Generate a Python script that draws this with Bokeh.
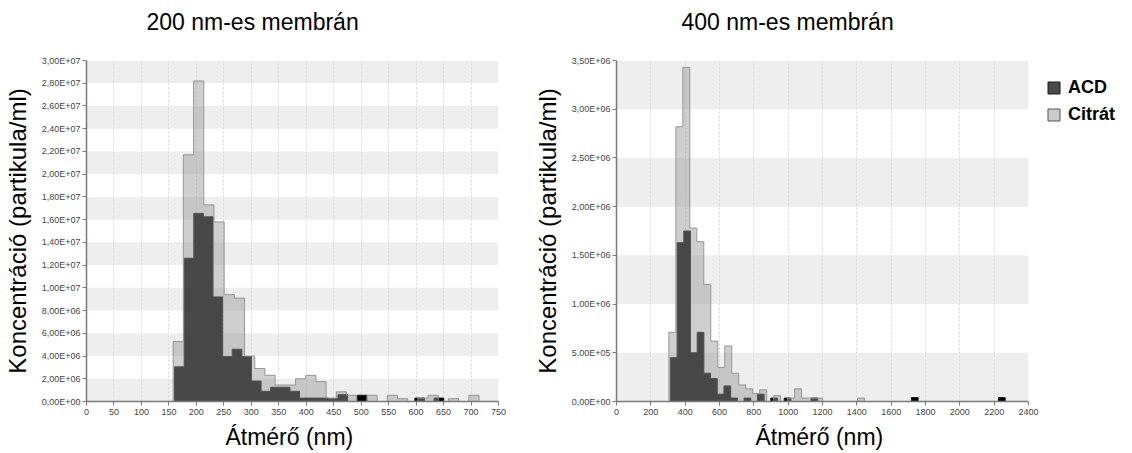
from bokeh.plotting import figure
from bokeh.layouts import row
from bokeh.models import FixedTicker, Legend, LegendItem, BoxAnnotation, Range1d, Title
from bokeh.embed import file_html
from bokeh.resources import INLINE

FONT = "Liberation Sans"
NAN = float("nan")

# ---------------- data: 200 nm membrane ----------------
title_200 = "200 nm-es membrán"
x_ticks_200 = [0, 50, 100, 150, 200, 250, 300, 350, 400, 450, 500, 550, 600, 650, 700, 750]
x_labels_200 = ["0", "50", "100", "150", "200", "250", "300", "350", "400", "450", "500",
                "550", "600", "650", "700", "750"]
y_ticks_200 = [0, 2e6, 4e6, 6e6, 8e6, 1e7, 1.2e7, 1.4e7, 1.6e7, 1.8e7, 2e7, 2.2e7, 2.4e7,
               2.6e7, 2.8e7, 3e7]
y_labels_200 = ["0,00E+00", "2,00E+06", "4,00E+06", "6,00E+06", "8,00E+06", "1,00E+07",
                "1,20E+07", "1,40E+07", "1,60E+07", "1,80E+07", "2,00E+07", "2,20E+07",
                "2,40E+07", "2,60E+07", "2,80E+07", "3,00E+07"]

# ACD histogram (bin start, bin width in nm, counts per bin)
acd200_start = 160.3
acd200_bin = 17.5
acd200 = [3.05e6, 12.6e6, 16.55e6, 16.25e6, 9.2e6, 3.95e6, 4.6e6, 3.95e6, 1.8e6, 0.9e6,
          1.25e6, 1.25e6, 0.9e6, 0.3e6, 0.3e6, 0.3e6, 0.25e6, 0.6e6, 0, 0.55e6,
          0, 0, 0, 0, 0, 0.3e6, 0, 0.3e6]

# Citrát histogram
cit200_start = 157.8
cit200_bin = 18.56
cit200 = [5.28e6, 21.7e6, 28.2e6, 17.3e6, 15.8e6, 9.4e6, 9.1e6, 4.0e6, 2.9e6, 2.3e6,
          1.45e6, 1.45e6, 2.0e6, 2.3e6, 1.75e6, 0.3e6, 0.85e6, 0.55e6, 0, 0.55e6,
          0, 0.55e6, 0.25e6, 0, 0.3e6, 0.55e6, 0, 0.25e6, 0, 0.55e6]

# ---------------- data: 400 nm membrane ----------------
title_400 = "400 nm-es membrán"
x_ticks_400 = [0, 200, 400, 600, 800, 1000, 1200, 1400, 1600, 1800, 2000, 2200, 2400]
x_labels_400 = ["0", "200", "400", "600", "800", "1000", "1200", "1400", "1600", "1800",
                "2000", "2200", "2400"]
y_ticks_400 = [0, 5e5, 1e6, 1.5e6, 2e6, 2.5e6, 3e6, 3.5e6]
y_labels_400 = ["0,00E+00", "5,00E+05", "1,00E+06", "1,50E+06", "2,00E+06", "2,50E+06",
                "3,00E+06", "3,50E+06"]

acd400_start = 314.0
acd400_bin = 39.0
acd400 = [4.5e5, 16.3e5, 17.5e5, 5.0e5, 7.1e5, 2.9e5, 2.35e5, 0.75e5, 1.6e5, 0.35e5,
          0, 0.35e5, 0, 0.75e5, 0, 0.35e5, 0, 0.35e5, 0, 0,
          0, 0.35e5, 0, 0, 0, 0, 0, 0, 0, 0,
          0, 0, 0, 0, 0, 0, 0.4e5, 0, 0, 0,
          0, 0, 0, 0, 0, 0, 0, 0, 0, 0.4e5]

cit400_start = 305.0
cit400_bin = 40.7
cit400 = [7.1e5, 28.2e5, 34.3e5, 17.8e5, 16.4e5, 12.0e5, 6.2e5, 3.5e5, 5.7e5, 2.9e5,
          1.7e5, 1.3e5, 0.8e5, 1.2e5, 0, 0.6e5, 0, 0.35e5, 1.3e5, 0.35e5,
          0.35e5, 0.35e5, 0, 0, 0, 0, 0, 0.35e5]

series_labels = ["ACD", "Citrát"]
x_title = "Átmérő  (nm)"
y_title = "Koncentráció (partikula/ml)"

ACD_FILL = "black"
CIT_FILL = "#999999"
CIT_ALPHA = 0.47


def step_runs(start, width, vals):
    """Outline polygons of contiguous non-zero histogram runs."""
    xs_all, ys_all = [], []
    cx, cy = None, None
    for i, v in enumerate(vals):
        left = start + i * width
        right = left + width
        if v > 0:
            if cx is None:
                cx, cy = [left], [0]
            cx += [left, right]
            cy += [v, v]
        elif cx is not None:
            cx.append(cx[-1]); cy.append(0)
            xs_all.append(cx); ys_all.append(cy)
            cx = None
    if cx is not None:
        cx.append(cx[-1]); cy.append(0)
        xs_all.append(cx); ys_all.append(cy)
    return xs_all, ys_all


def make_plot(title, xr, yr, xt, xl, yt, yl, acd, cit, min_left, min_right, offset):
    p = figure(frame_width=412, frame_height=341, title=None,
               x_range=Range1d(*xr), y_range=Range1d(*yr),
               output_backend="svg", toolbar_location=None,
               min_border_left=min_left, min_border_right=min_right,
               min_border_top=60, min_border_bottom=40)
    p.outline_line_color = None
    p.background_fill_color = "white"
    p.border_fill_color = "white"

    # spacer panel next to the frame, then the real title further up
    p.add_layout(Title(text=" ", text_font_size="1px", standoff=18), "above")
    p.add_layout(Title(text=title, text_font=FONT, text_font_size="23px",
                       text_font_style="normal", text_color="black",
                       align="left", offset=offset, standoff=10), "above")

    # banded background from y ticks
    for i in range(0, len(yt) - 1, 2):
        p.add_layout(BoxAnnotation(bottom=yt[i], top=yt[i + 1], fill_color="#eeeeee",
                                   fill_alpha=1, line_color=None, level="image"))

    p.xgrid.ticker = FixedTicker(ticks=xt)
    p.xgrid.grid_line_color = "#d9d9d9"
    p.xgrid.grid_line_dash = "2 2"
    p.ygrid.grid_line_color = None

    # bars
    axs, ays = step_runs(*acd)
    p.patches(axs, ays, fill_color=ACD_FILL, fill_alpha=1, line_color=None)
    p.multi_line(axs, ays, line_color="#111111", line_width=1)
    cxs, cys = step_runs(*cit)
    p.patches(cxs, cys, fill_color=CIT_FILL, fill_alpha=CIT_ALPHA, line_color=None)
    p.multi_line(cxs, cys, line_color="#8f8f8f", line_width=1, line_alpha=0.9)

    # axes
    for ax in (p.xaxis[0], p.yaxis[0]):
        ax.axis_line_color = "#7a7a7a"
        ax.axis_line_width = 1.5
        ax.major_tick_line_color = "#7a7a7a"
        ax.major_tick_in = 0
        ax.major_tick_out = 4
        ax.minor_tick_line_color = None
        ax.major_label_text_font = FONT
        ax.major_label_text_font_size = "9px"
        ax.major_label_text_color = "#444444"
        ax.axis_label_text_font = FONT
        ax.axis_label_text_font_style = "normal"
        ax.axis_label_text_color = "black"
    p.xaxis.axis_label_text_font_size = "23px"
    p.yaxis.axis_label_text_font_size = "24px"
    p.xaxis.ticker = FixedTicker(ticks=xt)
    p.xaxis.major_label_overrides = {t: l for t, l in zip(xt, xl)}
    p.yaxis.ticker = FixedTicker(ticks=yt)
    p.yaxis.major_label_overrides = {t: l for t, l in zip(yt, yl)}
    p.xaxis.axis_label = x_title
    p.yaxis.axis_label = y_title
    p.xaxis.major_label_standoff = 3
    p.xaxis.axis_label_standoff = 6
    p.yaxis.major_label_standoff = 2
    p.yaxis.axis_label_standoff = 8
    return p


p1 = make_plot(title_200, (0, 750), (0, 3e7), x_ticks_200, x_labels_200,
               y_ticks_200, y_labels_200,
               (acd200_start, acd200_bin, acd200), (cit200_start, cit200_bin, cit200),
               78, 32, 60)
p2 = make_plot(title_400, (0, 2400), (0, 3.5e6), x_ticks_400, x_labels_400,
               y_ticks_400, y_labels_400,
               (acd400_start, acd400_bin, acd400), (cit400_start, cit400_bin, cit400),
               86, 95, 65)

# legend swatches (renderers without visible data)
r_acd = p2.quad(left=[NAN], right=[NAN], top=[NAN], bottom=[NAN], fill_color="#4a4a4a",
                line_color="#1a1a1a")
r_cit = p2.quad(left=[NAN], right=[NAN], top=[NAN], bottom=[NAN], fill_color="#cccccc",
                line_color="#555555")
legend = Legend(items=[LegendItem(label=series_labels[0], renderers=[r_acd]),
                       LegendItem(label=series_labels[1], renderers=[r_cit])],
                location=(18, 276), padding=0, margin=0, spacing=6,
                glyph_width=15, glyph_height=15, label_standoff=7,
                label_text_font=FONT, label_text_font_size="18px",
                label_text_font_style="bold", label_text_color="black",
                border_line_color=None, background_fill_alpha=0)
p2.add_layout(legend, "right")

layout = row(p1, p2)
open("out.html", "w").write(file_html(layout, INLINE))
